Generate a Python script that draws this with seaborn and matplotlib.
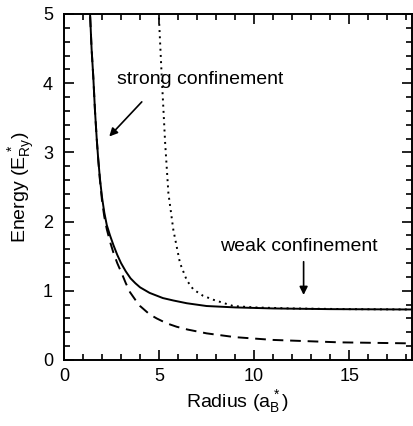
import matplotlib
matplotlib.use("Agg")
import matplotlib.pyplot as plt
import seaborn as sns
import pandas as pd

# Data
R_solid = [1.30, 1.37, 1.45, 1.54, 1.63, 1.72, 1.80, 1.89, 2.0, 2.12, 2.25, 2.42, 2.6, 2.8, 3.0, 3.25, 3.5, 3.75,
           4.0, 4.5, 5.2, 5.75, 6.46, 7.5, 9.0, 11.0, 14.0, 18.3]
E_solid = [5.4, 5.0, 4.5, 4.09, 3.6, 3.2, 2.9, 2.62, 2.35, 2.13, 1.95, 1.8, 1.66, 1.52, 1.40, 1.28, 1.18, 1.11,
           1.05, 0.97, 0.895, 0.86, 0.82, 0.78, 0.76, 0.745, 0.735, 0.73]

R_dash = [1.30, 1.37, 1.45, 1.54, 1.63, 1.72, 1.80, 1.89, 2.0, 2.12, 2.25, 2.42, 2.6, 2.8, 3.04, 3.25, 3.47, 3.75,
          4.0, 4.5, 4.88, 5.4, 5.93, 6.5, 7.5, 9.0, 11.0, 14.5, 18.3]
E_dash = [5.4, 5.0, 4.5, 4.09, 3.6, 3.2, 2.9, 2.6, 2.3, 2.07, 1.89, 1.71, 1.55, 1.40, 1.25, 1.11, 0.98, 0.87,
          0.78, 0.66, 0.60, 0.53, 0.48, 0.44, 0.385, 0.33, 0.29, 0.255, 0.24]

R_dot = [4.95, 5.0, 5.14, 5.32, 5.49, 5.75, 6.1, 6.46, 6.8, 7.3, 7.86, 8.9, 10.0, 12.0, 15.0, 18.3]
E_dot = [5.6, 4.9, 4.09, 3.13, 2.41, 1.88, 1.40, 1.15, 1.02, 0.93, 0.87, 0.78, 0.76, 0.745, 0.735, 0.73]

x_ticks = [0, 5, 10, 15]
y_ticks = [0, 1, 2, 3, 4, 5]

sns.set_theme(style="ticks")
plt.rcParams['font.family'] = ['Liberation Sans', 'DejaVu Sans']
plt.rcParams['mathtext.fontset'] = 'custom'
plt.rcParams['mathtext.rm'] = 'Liberation Sans'
plt.rcParams['mathtext.it'] = 'Liberation Sans:italic'
plt.rcParams['mathtext.bf'] = 'Liberation Sans:bold'
plt.rcParams['text.color'] = 'black'
plt.rcParams['axes.labelcolor'] = 'black'
plt.rcParams['xtick.color'] = 'black'
plt.rcParams['ytick.color'] = 'black'

fig = plt.figure(figsize=(4.14, 4.26), dpi=100)
ax = fig.add_axes([64/414, (426-360)/426, (412-64)/414, (360-14)/426])

df_s = pd.DataFrame({"R": R_solid, "E": E_solid})
df_d = pd.DataFrame({"R": R_dash, "E": E_dash})
df_o = pd.DataFrame({"R": R_dot, "E": E_dot})

sns.lineplot(data=df_s, x="R", y="E", ax=ax, color="black", lw=1.4, sort=False, estimator=None)
sns.lineplot(data=df_d, x="R", y="E", ax=ax, color="black", lw=1.4, sort=False, estimator=None,
             linestyle=(0, (5.5, 3.5)))
sns.lineplot(data=df_o, x="R", y="E", ax=ax, color="black", lw=1.4, sort=False, estimator=None,
             linestyle=(0, (1, 2.2)))

ax.set_xlim(0, 18.3)
ax.set_ylim(0, 5)
ax.set_xticks(x_ticks)
ax.set_yticks(y_ticks)
ax.set_xticks([i for i in range(0, 19) if i % 5 != 0], minor=True)
ax.set_yticks([i * 0.2 for i in range(26) if i % 5 != 0], minor=True)
ax.tick_params(which="both", direction="in", top=True, right=True, color="black", width=1.2)
ax.tick_params(which="major", length=7, labelsize=13, labelcolor="black")
ax.tick_params(axis="y", which="major", pad=8)
ax.tick_params(axis="x", which="major", pad=6)
ax.tick_params(which="minor", length=4.5)
for sp in ax.spines.values():
    sp.set_linewidth(1.4)
    sp.set_color("black")

ax.set_xlabel(r"Radius (a$_\mathregular{B}^{\,*}$)", fontsize=14, labelpad=2, color="black")
ax.set_ylabel(r"Energy (E$_\mathregular{Ry}^{\,*}$)", fontsize=14, labelpad=4, color="black")

ax.text(2.79, 4.05, "strong confinement", fontsize=14, ha="left", va="center", color="black")
ax.text(8.2, 1.64, "weak confinement", fontsize=14, ha="left", va="center", color="black")
ax.annotate("", xy=(2.38, 3.23), xytext=(4.09, 3.73),
            arrowprops=dict(arrowstyle="-|>", color="black", lw=1.2, mutation_scale=12, shrinkA=0, shrinkB=0))
ax.annotate("", xy=(12.6, 0.94), xytext=(12.6, 1.42),
            arrowprops=dict(arrowstyle="-|>", color="black", lw=1.2, mutation_scale=12, shrinkA=0, shrinkB=0))

fig.savefig("out.png", dpi=100)
